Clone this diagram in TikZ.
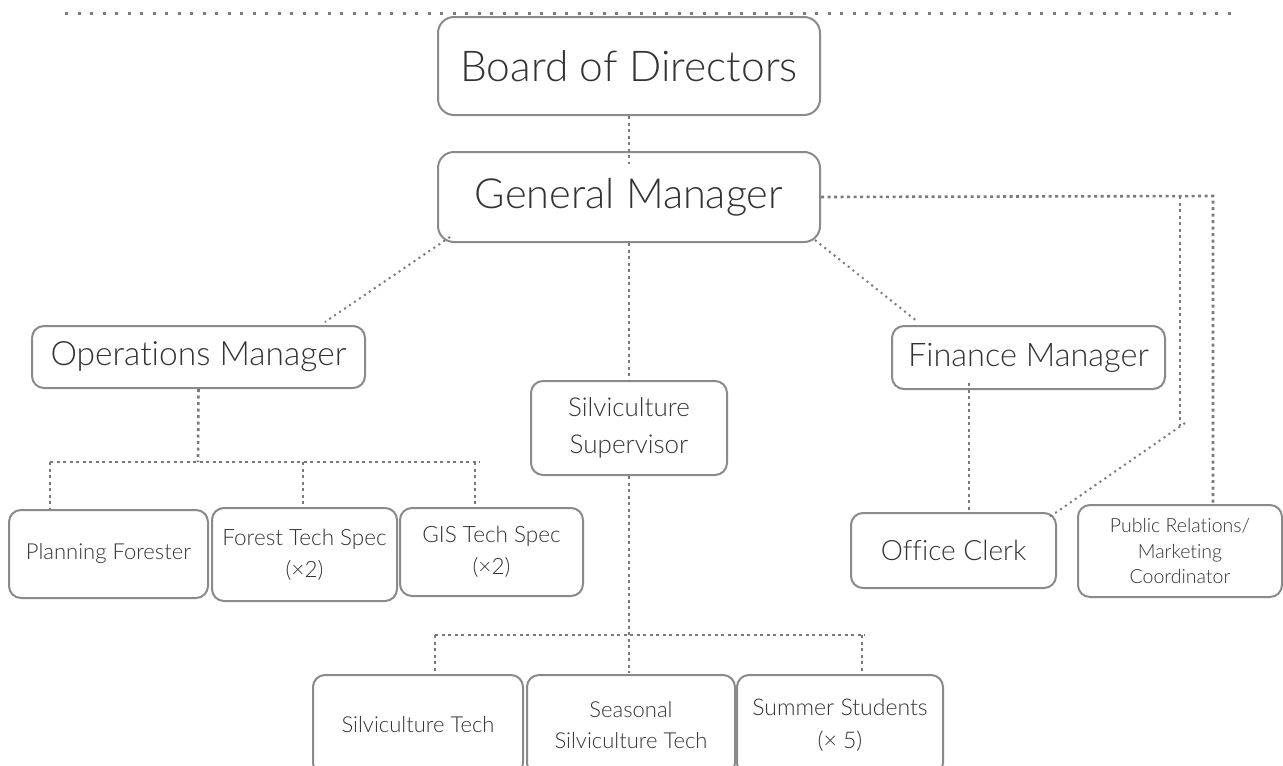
\documentclass[tikz,border=0pt]{standalone}
\usepackage{fontspec}
\setmainfont{Lato Light}[Ligatures=NoCommon]
\definecolor{boxgray}{HTML}{8A8A8A}
\definecolor{txtgray}{HTML}{333333}
\definecolor{dotgray}{HTML}{7A7A7A}
\tikzset{
  orgbox/.style={draw=boxgray, line width=2pt, rounded corners=12pt, inner sep=0pt,
    align=center, text=txtgray, font=\fontsize{#1}{#1}\selectfont, execute at begin node=\setlength{\baselineskip}{1.42em}},
  orgbox/.default=22,
  conn/.style={draw=dotgray, line width=2.6pt, dash pattern=on 3pt off 3.5pt},
  diag/.style={draw=dotgray, line width=2pt, dash pattern=on 2pt off 4pt},
  topline/.style={draw=dotgray, line width=3pt, dash pattern=on 3pt off 9.5pt}
}
\begin{document}
\begin{tikzpicture}[x=1pt,y=-1pt]
\useasboundingbox (0,0) rectangle (1283,766);
% nodes
\node[orgbox=42.5, rounded corners=16pt, minimum width=382pt, minimum height=98pt] (bod) at (629,66) {Board of Directors};
\node[orgbox=41.5, rounded corners=16pt, minimum width=382pt, minimum height=90pt] (gm) at (629,197) {General Manager};
\node[orgbox=33.5, minimum width=333pt, minimum height=62pt] (ops) at (198.5,357) {Operations Manager};
\node[orgbox=26, minimum width=196pt, minimum height=94pt] (sup) at (629,428) {Silviculture\\Supervisor};
\node[orgbox=32.5, minimum width=273pt, minimum height=63pt] (fin) at (1028.5,357.5) {Finance Manager};
\node[orgbox=22, minimum width=199pt, minimum height=88pt] (pf) at (108.5,554) {Planning Forester};
\node[orgbox=22.5, minimum width=185pt, minimum height=93pt] (fts) at (304.5,554.5) {Forest Tech Spec\\(\texttimes2)};
\node[orgbox=22.5, minimum width=183pt, minimum height=88pt] (gis) at (491.5,552) {GIS Tech Spec\\(\texttimes2)};
\node[orgbox=28, minimum width=205pt, minimum height=75pt] (oc) at (953.5,550.5) {Office Clerk};
\node[orgbox=19.5, minimum width=204pt, minimum height=92pt, execute at begin node=\setlength{\baselineskip}{1.32em}] (pr) at (1180,551) {Public Relations/\\Marketing\\Coordinator};
\node[orgbox=22, minimum width=210pt, minimum height=100pt] (st) at (418,725) {Silviculture Tech};
\node[orgbox=22, minimum width=208pt, minimum height=100pt] (sst) at (631,725) {Seasonal\\Silviculture Tech};
\node[orgbox=23, minimum width=206pt, minimum height=100pt] (ss) at (840,725) {Summer Students\\(\texttimes{} 5)};
% top line
\coordinate (tl) at (65,13);
\coordinate (tr) at (1235,13);
\draw[topline] (tl) -- (tr);
% board to GM
\draw[conn] (bod.south) -- ++(0,48);
% GM to managers
\coordinate (gmsw) at (450,237);
\coordinate (opsne) at (325,322);
\draw[diag] (gmsw) -- (opsne);
\coordinate (gmse) at (815,240);
\coordinate (finnw) at (918,322);
\draw[diag] (gmse) -- (finnw);
\draw[conn] (gm.south) -- (sup.north);
% GM to staff
\coordinate (prc) at (1213,196);
\draw[conn] (gm.east) -- (prc) -- (prc |- pr.north);
\coordinate (occ) at (1180,196);
\coordinate (ocb) at (1180,426);
\coordinate (ocd) at (1185,423);
\coordinate (ocne) at (1048,518);
\draw[conn] (occ) -- (ocb);
\draw[diag] (ocd) -- (ocne);
% Finance to clerk
\coordinate (fx) at (969,383);
\draw[conn] (fx) -- (fx |- oc.north);
% Ops tree
\coordinate (opsj) at (198,462);
\coordinate (opsl) at (50,462);
\coordinate (opsr) at (480,462);
\draw[conn] (ops.south) -- (opsj);
\draw[conn] (opsl) -- (opsr);
\draw[conn] (opsl) -- (opsl |- pf.north);
\coordinate (ftsd) at (303,462);
\draw[conn] (ftsd) -- (ftsd |- fts.north);
\coordinate (gisd) at (475,462);
\draw[conn] (gisd) -- (gisd |- gis.north);
% Supervisor tree
\coordinate (supl) at (435,635);
\coordinate (supr) at (865,635);
\draw[conn] (sup.south) -- ++(0,197);
\draw[conn] (supl) -- (supr);
\draw[conn] (supl) -- (supl |- st.north);
\coordinate (ssd) at (862,635);
\draw[conn] (ssd) -- (ssd |- ss.north);
\end{tikzpicture}
\end{document}
